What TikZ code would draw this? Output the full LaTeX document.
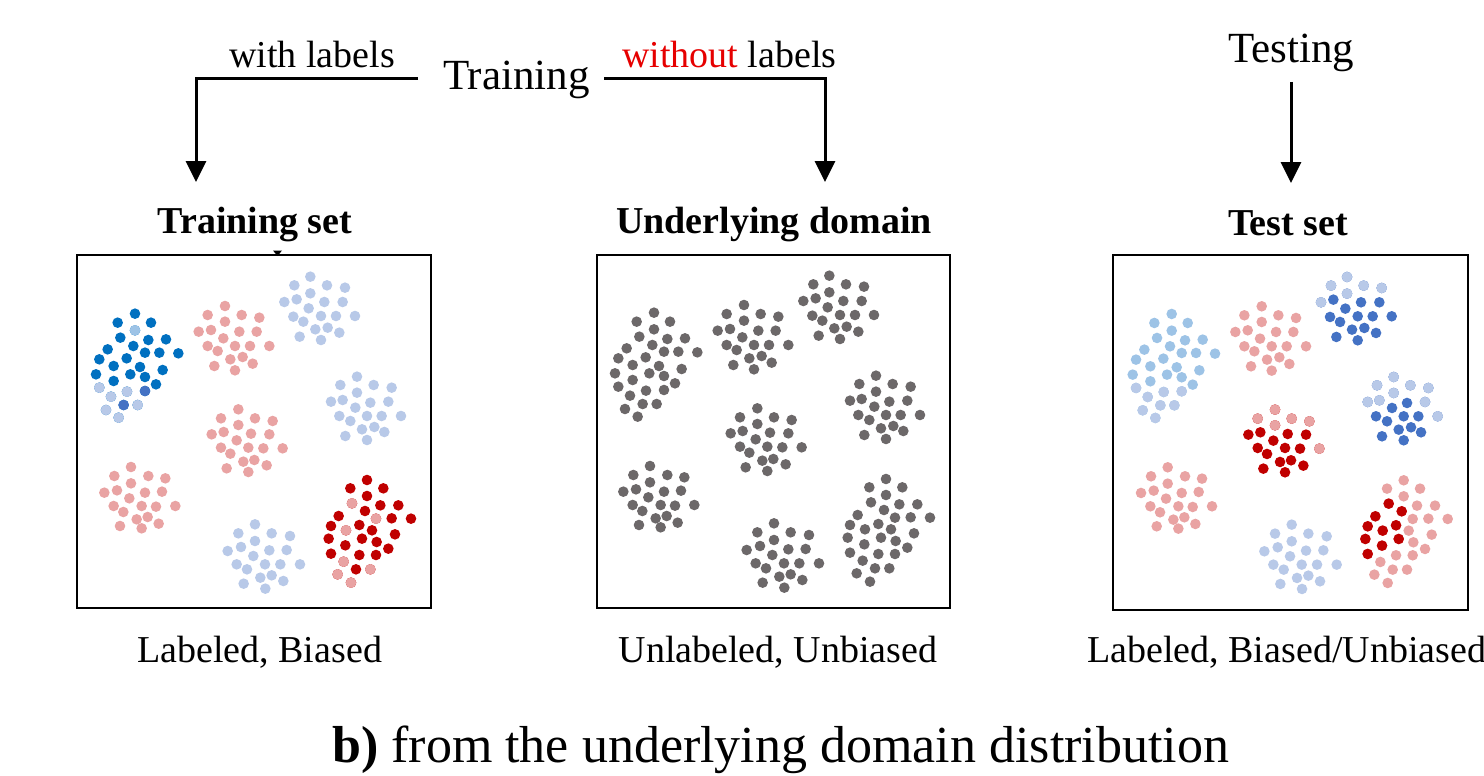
\documentclass[tikz,border=0pt]{standalone}
\usepackage{fontspec}
\setmainfont{Liberation Serif}
\usetikzlibrary{arrows.meta}
\definecolor{dotgray}{RGB}{108,104,105}
\definecolor{dblue}{RGB}{0,112,192}
\definecolor{lav}{RGB}{184,201,232}
\definecolor{sky}{RGB}{157,195,230}
\definecolor{mblue}{RGB}{68,114,196}
\definecolor{pink}{RGB}{233,163,163}
\definecolor{dred}{RGB}{192,0,0}
\definecolor{wred}{RGB}{230,0,0}
\def\cA{192/218,140/245,240/245,192/268,148/290,232/297,285/295,187/315,110/325,222/335,265/335,322/337,85/355,167/352,128/375,207/378,275/387,75/400,178/400,222/408,128/420,255/430,85/440,168/452,222/450,120/467,158/492,200/492,105/507,143/530}
\def\cB{462/195,410/222,512/222,565/230,462/242,383/272,420/267,505/272,557/272,457/292,410/315,492/315,537/315,595/315,440/330,515/348,478/355,545/368,430/375,492/388}
\def\cC{718/107,670/133,768/133,822/140,718/157,640/183,677/175,760/183,815/183,713/202,667/227,750/225,795/225,852/225,697/242,770/260,733/265,805/275,686/287,750/297}
\def\cD{858/407,808/432,908/432,962/440,858/455,780/482,815/477,898/485,952/482,853/500,805/525,888/525,932/525,990/525,838/540,910/558,873/565,940/573,823/585,888/597}
\def\cE{502/505,450/532,552/532,605/540,502/552,422/580,458/573,540/578,595/580,497/598,450/620,532/620,577/622,635/622,478/638,550/657,517/662,587/673,467/682,532/693}
\def\cF{180/678,130/705,232/705,283/712,180/727,100/755,138/748,222/755,273/752,175/772,128/795,212/795,255/797,313/795,157/813,230/828,197/835,263/848,147/855,212/862}
\def\cG{552/850,502/877,602/877,657/885,552/900,470/930,510/918,595/928,647/927,547/945,497/970,582/970,628/970,687/970,528/985,602/1003,568/1010,637/1020,518/1028,583/1043}
\def\cH{888/717,838/742,937/742,888/765,843/787,928/793,982/793,882/810,803/825,915/833,962/832,1020/833,780/855,865/852,825/868,903/868,972/880,773/893,873/893,917/903,823/913,952/923,780/938,865/942,915/942,818/962,855/985,898/985,800/1000,840/1025}
\newcommand\putdots[2]{\foreach \px/\py in #2 {\fill[#1] (\px,\py) circle[radius=5.3pt];}}
\tikzset{
  lbl/.style={inner sep=0pt, font=\fontsize{38}{40}\selectfont},
  big/.style={inner sep=0pt, font=\fontsize{43}{45}\selectfont},
  ttl/.style={inner sep=0pt, font=\fontsize{38}{40}\selectfont\bfseries},
  captxt/.style={inner sep=0pt, font=\fontsize{52}{54}\selectfont},
  panel/.style={draw, line width=2.8pt, inner sep=0pt},
  arr/.style={line width=3pt, -{Triangle[width=20pt,length=21pt]}},
  dotscope/.style={x=0.333333pt, y=-0.333333pt}
}
\begin{document}
\begin{tikzpicture}[x=1pt,y=-1pt]
\useasboundingbox (0,0) rectangle (1484,776);
% panels
\node[panel, minimum width=354pt, minimum height=353pt] (b1) at (254,431.5) {};
\node[panel, minimum width=353pt, minimum height=353pt] (b2) at (773.5,431.5) {};
\node[panel, minimum width=355pt, minimum height=355pt] (b3) at (1290.5,432.5) {};
% box 1 dots (labeled, biased)
\begin{scope}[shift={(71pt,-241pt)}, dotscope]
  \putdots{dblue}{\cA}
  \putdots{sky}{{192/268}}
  \putdots{lav}{{85/440,168/452,120/467,200/492,105/507,143/530}}
  \putdots{mblue}{{222/450,158/492}}
  \putdots{pink}{\cB}
  \putdots{lav}{\cC}
  \putdots{lav}{\cD}
  \putdots{pink}{\cE}
  \putdots{pink}{\cF}
  \putdots{lav}{\cG}
  \putdots{dred}{\cH}
  \putdots{pink}{{843/787,915/833,825/868,818/962,898/985,800/1000,840/1025}}
\end{scope}
% box 2 dots (underlying domain)
\begin{scope}[shift={(590pt,-240pt)}, dotscope]
  \putdots{dotgray}{\cA}
  \putdots{dotgray}{\cB}
  \putdots{dotgray}{\cC}
  \putdots{dotgray}{\cD}
  \putdots{dotgray}{\cE}
  \putdots{dotgray}{\cF}
  \putdots{dotgray}{\cG}
  \putdots{dotgray}{\cH}
\end{scope}
% box 3 dots (test set)
\begin{scope}[shift={(1107.7pt,-241.3pt)}, dotscope]
  \putdots{sky}{\cA}
  \putdots{lav}{{85/440,168/452,222/450,120/467,158/492,200/492,105/507,143/530}}
  \putdots{pink}{\cB}
  \putdots{mblue}{\cC}
  \putdots{lav}{{718/107,670/133,768/133,822/140,718/157,640/183}}
  \putdots{mblue}{\cD}
  \putdots{lav}{{858/407,808/432,908/432,962/440,858/455,780/482,815/477,952/482,990/525}}
  \putdots{dred}{\cE}
  \putdots{pink}{{502/505,450/532,552/532,605/540,502/552,635/622}}
  \putdots{pink}{\cF}
  \putdots{lav}{\cG}
  \putdots{pink}{\cH}
  \putdots{dred}{{843/787,882/810,803/825,780/855,865/852,825/868,773/893,873/893,823/913,780/938}}
\end{scope}
% texts
\node[lbl, anchor=base west] (wl) at (229,67) {with labels};
\node[big, anchor=base west] (tr) at (443,89) {Training};
\node[lbl, anchor=base west] (wol) at (622,67) {\textcolor{wred}{without} labels};
\node[big, anchor=base west] (te) at (1228,63) {Testing};
\node[ttl, anchor=base] (t1) at (255,233) {Training set};
\node[ttl, anchor=base] (t2) at (774,233) {Underlying domain};
\node[ttl, anchor=base] (t3) at (1288,235) {Test set};
\node[lbl, anchor=base west] (c1) at (137,662) {Labeled, Biased};
\node[lbl, anchor=base] (c2) at (778,662) {Unlabeled, Unbiased};
\node[lbl, anchor=base west] (c3) at (1087,662) {Labeled, Biased/Unbiased};
\node[captxt, anchor=base west] (capt) at (332,762) {\textbf{b)} from the underlying domain distribution};
% connectors
\coordinate (sL) at (418,79);
\coordinate (sR) at (604,79);
\coordinate (eL) at (196,182);
\coordinate (eR) at (825,182);
\coordinate (sT) at (1291,82);
\coordinate (eT) at (1291,183);
\draw[arr] (sL) -| (eL);
\draw[arr] (sR) -| (eR);
\draw[arr] (sT) -- (eT);
% small mark on top of the training-set box
\fill (273,250.5) -- (282,250.5) -- (277.5,256) -- cycle;
\end{tikzpicture}
\end{document}
